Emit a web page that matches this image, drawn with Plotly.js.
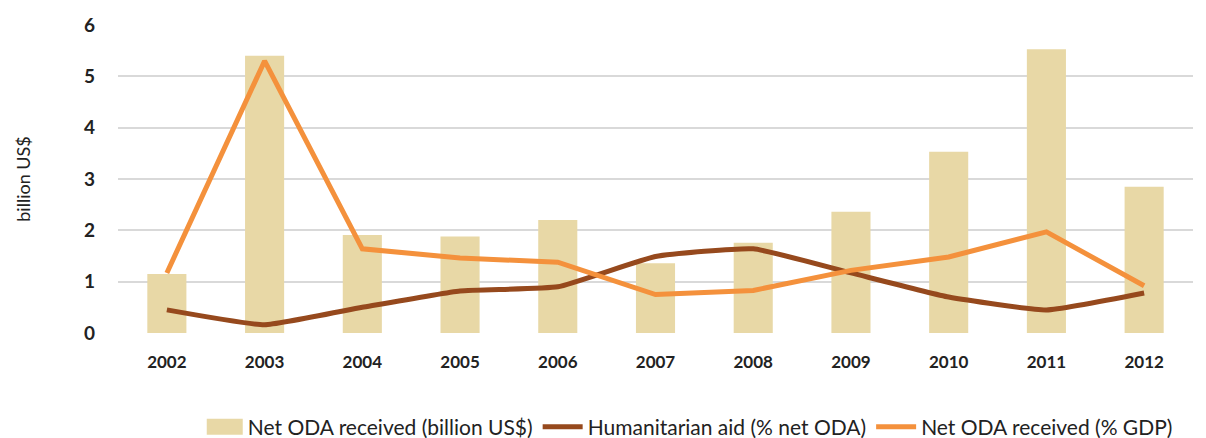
<!DOCTYPE html>
<html><head><meta charset="utf-8">
<script src="https://cdn.plot.ly/plotly-3.0.1.min.js"></script>
<style>html,body{margin:0;padding:0;background:#fff}#c{width:1206px;height:438px}</style>
</head><body><div id="c"></div>
<script>
const years = ['2002','2003','2004','2005','2006','2007','2008','2009','2010','2011','2012'];
const netOdaBillion = [1.15,5.40,1.91,1.88,2.20,1.36,1.76,2.36,3.53,5.53,2.85];
const humanitarianPct = [0.45,0.16,0.50,0.82,0.90,1.49,1.64,1.17,0.70,0.45,0.78];
const netOdaGdp = [1.17,5.30,1.64,1.46,1.38,0.75,0.83,1.22,1.48,1.97,0.92];

const data = [
  {type:'bar', x:years, y:netOdaBillion, name:'Net ODA received (billion US$)',
   marker:{color:'#e8d8a6'}, width:0.4},
  {type:'scatter', mode:'lines', x:years, y:humanitarianPct, name:'Humanitarian aid (% net ODA)',
   line:{color:'#96491d', width:5, shape:'spline', smoothing:0.4}},
  {type:'scatter', mode:'lines', x:years, y:netOdaGdp, name:'Net ODA received (% GDP)',
   line:{color:'#f4913c', width:5}}
];
const layout = {
  width:1206, height:438,
  margin:{l:118, r:13, t:25, b:105, autoexpand:false},
  paper_bgcolor:'#fff', plot_bgcolor:'#fff',
  font:{family:'Lato, "Open Sans", sans-serif', color:'#222'},
  xaxis:{type:'category', automargin:false, tickfont:{size:17, family:'Lato', weight:'bold', color:'#222'},
         showgrid:false, zeroline:false, showline:false, ticks:'', ticklen:0, ticklabelstandoff:17},
  yaxis:{range:[0,6], dtick:1, automargin:false, tickfont:{size:19, family:'Lato', weight:'bold', color:'#222'},
         gridcolor:'#d9d9d9', gridwidth:1.5, zeroline:false, showline:false, ticks:'',
         ticklabelstandoff:22,
         title:{text:'billion US$', font:{size:18, family:'Lato', color:'#222'}, standoff:48}},
  legend:{orientation:'h', x:0.53, xanchor:'center', yref:'container', y:0.025, yanchor:'middle',
          font:{size:21, family:'Lato', color:'#222'}, traceorder:'normal', itemwidth:40},
  showlegend:true
};
Plotly.newPlot('c', data, layout, {displayModeBar:false}).then(function(gd){
  const pts = gd.querySelectorAll('.legend .traces');
  if (pts.length) {
    const p = pts[0].querySelector('.legendpoints path');
    if (p) p.setAttribute('d','M-16,8H20V-8H-16Z');
  }
});
</script></body></html>
